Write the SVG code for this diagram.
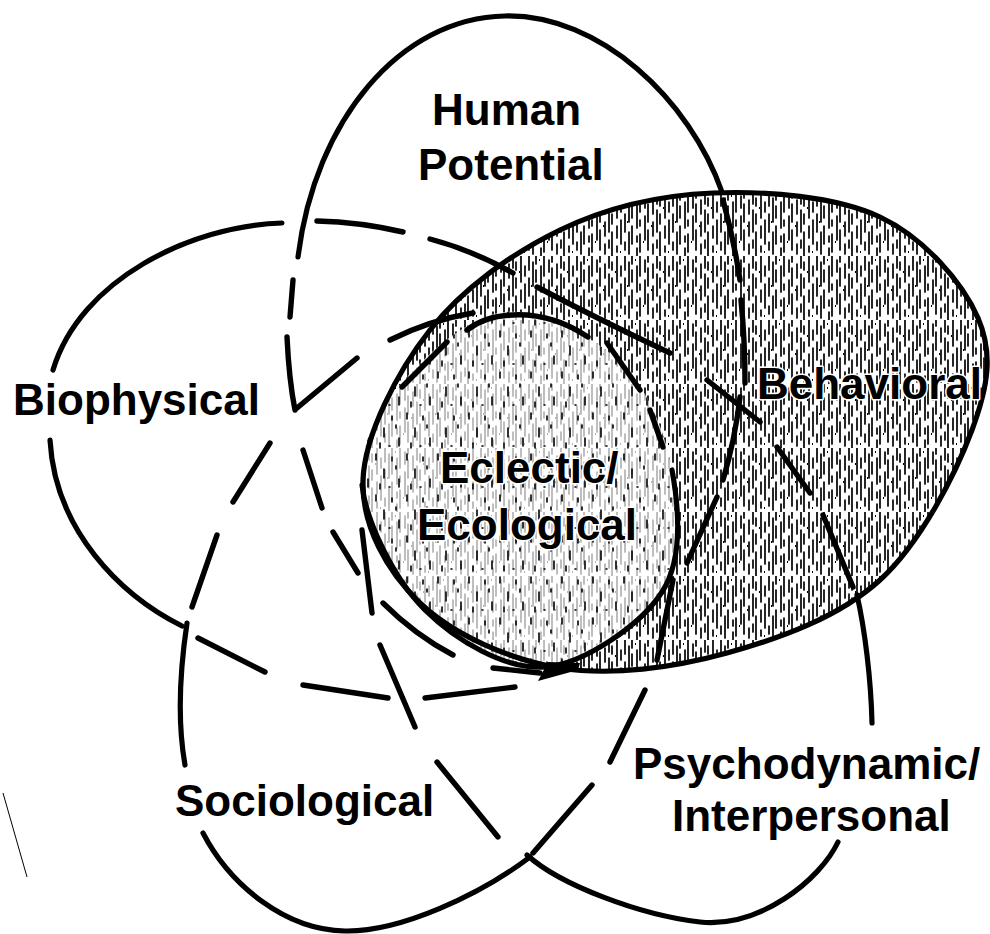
<svg xmlns="http://www.w3.org/2000/svg" width="990" height="934" viewBox="0 0 990 934">
<defs>
<style>
.solid{fill:none;stroke:#000;stroke-width:5.2;stroke-linecap:round;stroke-linejoin:round}
.dash{fill:none;stroke:#000;stroke-width:5.4;stroke-linecap:round}
.lbl{font-family:"Liberation Sans",Arial,Helvetica,sans-serif;font-weight:bold;font-size:44px;fill:#000}
.halo{stroke:#fff;stroke-width:3;paint-order:stroke;stroke-linejoin:round}
</style>
<pattern id="streaks" patternUnits="userSpaceOnUse" width="48" height="64">
<path d="M1,0v14M1,22v18M1,50v8M5,6v24M5,40v22M8,0v8M8,14v12M8,34v18M13,10v26M13,44v6M13,56v8M16,0v20M16,28v6M16,42v18M21,4v12M21,24v24M24,0v6M24,12v18M24,38v20M29,8v14M29,30v14M29,52v10M33,0v12M33,18v22M33,48v8M36,6v8M36,22v10M36,40v24M41,0v26M41,34v12M41,54v6M45,10v10M45,28v24" stroke="#000" stroke-width="1.7" stroke-linecap="round"/>
<path d="M3,30h1M11,4h1M19,50h1M27,34h1M39,16h1M44,60h1" stroke="#000" stroke-width="2.2"/>
</pattern>
<pattern id="specks" patternUnits="userSpaceOnUse" width="31" height="41">
<path d="M4,3v6M12,18v9M20,6v4M27,28v8M8,33v5M17,36h1M24,15v3" stroke="#000" stroke-width="1.6" stroke-linecap="round"/>
</pattern>
<path id="behav-shape" d="M363,480 C364.7,434.5 397.2,371.7 430,330 C462.8,288.3 512.8,252.8 560,230 C607.2,207.2 659.7,195.2 713,193 C766.3,190.8 835.5,196.2 880,217 C924.2,237.8 962.7,282.5 978,318 C993.3,353.5 988.3,386.3 972,430 C955.7,473.7 920.8,542.8 880,580 C839.2,617.2 780.3,638.3 727,653 C673.7,667.7 611.2,676.3 560,668 C508.8,659.7 452.8,634.3 420,603 C387.2,571.7 361.3,525.5 363,480 Z"/>
<path id="circle-shape" d="M505,312 C541.7,308.2 592.2,335.7 620,362 C647.8,388.3 665,431.7 672,470 C679,508.3 683.2,559.2 662,592 C640.8,624.8 584.5,664 545,667 C505.5,670 455.5,640.3 425,610 C394.5,579.7 366.2,522.5 362,485 C357.8,447.5 376.2,413.8 400,385 C423.8,356.2 468.3,315.8 505,312 Z"/>
</defs>
<rect width="990" height="934" fill="#fff"/>

<g id="behavioral">
<use href="#behav-shape" style="fill:url(#streaks);stroke:none"/>
<use href="#circle-shape" style="fill:#fff;stroke:none"/>
<use href="#circle-shape" style="fill:url(#streaks);stroke:none;opacity:0.3"/>
<use href="#circle-shape" style="fill:url(#specks);stroke:none"/>
<use href="#behav-shape" class="solid"/>
<text class="lbl halo" x="757" y="399">Behavioral</text>
</g>

<g id="eclectic-ecological">
<path class="solid" d="M672,470 C679,508.3 683.2,559.2 662,592 C640.8,624.8 584.5,664 545,667 C505.5,670 455.5,640.3 425,610 C394.5,579.7 366.2,522.5 362,485"/>
<path class="dash" d="M402,387 L447,342"/>
<path class="dash" d="M467,330 C490,312 540,305 588,337"/>
<path class="dash" d="M607,343 L640,390"/>
<path class="dash" d="M650,410 L663,447"/>
<polygon points="538,681 548,662 580,663 578,670" fill="#000"/>
<text class="lbl halo" x="440" y="483">Eclectic/</text>
<text class="lbl halo" x="417" y="540">Ecological</text>
</g>

<g id="human-potential">
<path class="solid" d="M298,257 C315,120 400,18 505,16 C600,14 690,100 722,192"/>
<text class="lbl" x="432" y="125">Human</text>
<text class="lbl" x="418" y="180">Potential</text>
</g>

<g id="biophysical">
<path class="solid" d="M282,223 C190,226 80,280 53,370"/>
<path class="solid" d="M50,440 C55,530 120,595 182,626"/>
<text class="lbl" x="13" y="415">Biophysical</text>
</g>

<g id="sociological">
<path class="solid" d="M187,623 C180,670 177,720 185,765"/>
<path class="solid" d="M203,833 C230,885 285,930 345,931 C400,932 480,895 530,857"/>
<text class="lbl" x="175" y="816">Sociological</text>
</g>

<g id="psychodynamic-interpersonal">
<path class="solid" d="M527,855 C560,885 640,915 700,922 C760,928 820,880 838,842"/>
<path class="solid" d="M857,595 C865,630 871,680 872,723"/>
<text class="lbl" x="633" y="779">Psychodynamic/</text>
<text class="lbl" x="672" y="831">Interpersonal</text>
</g>

<g id="connectors">
<path class="dash" d="M317,221 Q360,222 403,232"/>
<path class="dash" d="M430,239 Q472,250 513,273"/>
<path class="dash" d="M537,287 Q600,320 670,353"/>
<path class="dash" d="M707,380 L760,422"/>
<path class="dash" d="M777,447 L810,493"/>
<path class="dash" d="M823,515 L853,587"/>
<path class="dash" d="M293,280 L290,317"/>
<path class="dash" d="M287,337 Q289,380 295,410"/>
<path class="dash" d="M303,450 L322,508"/>
<path class="dash" d="M333,532 L358,573"/>
<path class="dash" d="M380,645 L415,727"/>
<path class="dash" d="M437,762 L498,837"/>
<path class="dash" d="M723,200 Q734,240 740,280"/>
<path class="dash" d="M741,300 Q745,340 745,383"/>
<path class="dash" d="M740,397 Q735,440 723,480"/>
<path class="dash" d="M717,497 L687,563"/>
<path class="dash" d="M673,580 L657,660"/>
<path class="dash" d="M645,690 L610,762"/>
<path class="dash" d="M592,785 L533,853"/>
<path class="dash" d="M192,607 L217,535"/>
<path class="dash" d="M233,502 L270,443"/>
<path class="dash" d="M297,408 L357,358"/>
<path class="dash" d="M390,340 Q430,320 473,313"/>
<path class="dash" d="M198,638 L265,672"/>
<path class="dash" d="M303,685 L388,698"/>
<path class="dash" d="M425,698 L515,687"/>
<path class="dash" d="M362,530 L372,613"/>
<path class="dash" d="M383,603 Q415,635 453,655"/>
<path class="dash" d="M493,668 L540,673"/>
</g>
<path d="M3,793 L27,877" stroke="#000" stroke-width="1" fill="none"/>
</svg>
